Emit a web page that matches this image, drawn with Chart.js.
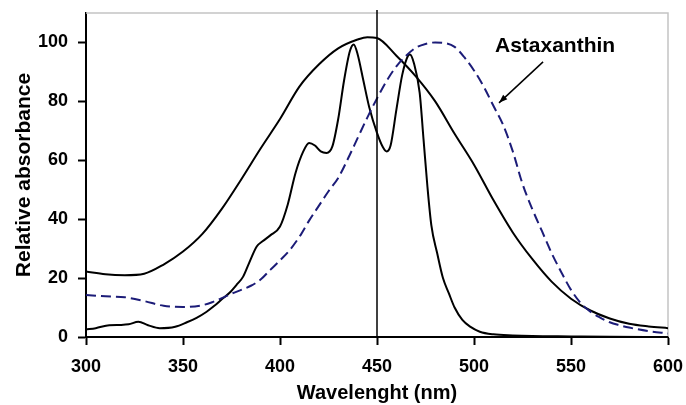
<!DOCTYPE html>
<html>
<head>
<meta charset="utf-8">
<script src="https://cdn.jsdelivr.net/npm/chart.js@4.4.1/dist/chart.umd.min.js"></script>
<style>
    html, body { margin: 0; padding: 0; background: #fff; }
    #wrap { width: 686px; height: 405px; position: relative; }
</style>
</head>
<body>
<div id="wrap"><canvas id="spectrum-chart"></canvas></div>
<script>
// axis ticks
const xTicks = [300, 350, 400, 450, 500, 550, 600];
const yTicks = [0, 20, 40, 60, 80, 100];

// broad solid band
const broadX = [300, 310, 320, 330, 340, 350, 360, 370, 380, 390, 400, 410, 420, 430, 440, 445, 450, 460, 470, 480, 490, 500, 510, 520, 530, 540, 550, 560, 570, 580, 590, 600];
const broadY = [22.2, 21.3, 21, 21.5, 24.6, 29, 35, 43.5, 53.5, 64, 74, 85, 92.5, 98, 101, 101.8, 101.5, 95.5, 88.5, 80, 69, 58.5, 46.5, 35.5, 26.5, 18.8, 13, 9, 6.3, 4.5, 3.6, 3];

// sharp two-peak solid curve
const sharpX = [300, 305, 312, 318, 322, 327, 332, 338, 346, 352, 357, 362, 366, 370, 374, 378, 381, 384, 388, 391, 395, 400, 404, 408, 412, 415, 418, 421, 424, 427, 430, 433, 436, 438, 440, 443, 446, 450, 453, 455, 457, 460, 463, 466, 467, 469, 472, 474, 476, 478, 481, 484, 487, 490, 494, 498, 503, 510, 520, 530, 550, 570, 600];
const sharpY = [2.6, 3.0, 4.0, 4.1, 4.3, 5.2, 4.0, 3.0, 3.5, 5, 6.5, 8.5, 10.5, 12.8, 15, 18, 20.5, 25, 30.7, 32.5, 34.5, 37.5, 45, 55.7, 63, 65.9, 65, 63, 62.5, 64.7, 74, 87, 97, 99.3, 96, 87, 78, 69.3, 64.5, 63, 65, 77.2, 89, 95.5, 95.9, 93, 82.9, 67, 51, 38, 28.5, 20, 14.9, 10, 5.8, 3.5, 1.8, 0.9, 0.5, 0.3, 0.2, 0.1, 0];

// astaxanthin (dashed)
const astaX = [300, 310, 320, 330, 340, 350, 360, 365, 370, 375, 380, 385, 390, 395, 400, 405, 410, 415, 420, 425, 430, 435, 440, 445, 450, 455, 460, 465, 470, 475, 480, 485, 490, 495, 500, 505, 510, 515, 520, 525, 530, 535, 540, 545, 550, 555, 560, 565, 570, 575, 580, 590, 600];
const astaY = [14.3, 13.8, 13.5, 12.2, 10.6, 10.2, 10.8, 11.8, 13.2, 14.7, 16, 17.4, 19.5, 22.8, 26, 29.5, 34, 39.5, 44.5, 49.5, 54, 60.5, 67.5, 74.5, 81, 87, 91.9, 95.5, 98.2, 99.5, 100, 99.8, 98.5, 95, 90.5, 85, 78.5, 72, 63, 52, 43.5, 36, 28.5, 22, 16, 11.5, 8.6, 6.6, 5, 4, 3.2, 2, 1.2];

// reference line at 450 nm
const markerX = [450, 450];
const markerY = [0, 111];

// annotation (data units)
const labelText = 'Astaxanthin';
const labelPos = [541.8, 96.9];
const arrowFrom = [535.6, 93.4];
const arrowTo = [512.9, 79.5];

function toPoints(xs, ys) {
    return xs.map((x, i) => ({ x: x, y: ys[i] }));
}

const FONT = "'Liberation Sans', Arial, sans-serif";

// light grey frame on top and right of plot area
const FrameBox = {
    id: 'frameBox',
    beforeDatasetsDraw(chart) {
        const a = chart.chartArea;
        const c = chart.ctx;
        c.save();
        c.strokeStyle = '#c4c4c4';
        c.lineWidth = 1.5;
        c.beginPath();
        c.moveTo(a.left, a.top);
        c.lineTo(a.right, a.top);
        c.lineTo(a.right, a.bottom);
        c.stroke();
        c.restore();
    }
};

// label + arrow
const Annotation = {
    id: 'annot',
    afterDatasetsDraw(chart) {
        const xs = chart.scales.x;
        const ys = chart.scales.y;
        const c = chart.ctx;
        c.save();
        c.fillStyle = '#000';
        c.font = 'bold 21px ' + FONT;
        c.textAlign = 'center';
        c.textBaseline = 'alphabetic';
        c.fillText(labelText, xs.getPixelForValue(labelPos[0]), ys.getPixelForValue(labelPos[1]));

        const x1 = xs.getPixelForValue(arrowFrom[0]);
        const y1 = ys.getPixelForValue(arrowFrom[1]);
        const x2 = xs.getPixelForValue(arrowTo[0]);
        const y2 = ys.getPixelForValue(arrowTo[1]);
        c.strokeStyle = '#000';
        c.lineWidth = 1.5;
        c.beginPath();
        c.moveTo(x1, y1);
        c.lineTo(x2, y2);
        c.stroke();
        const ang = Math.atan2(y2 - y1, x2 - x1);
        const len = 9;
        c.beginPath();
        c.moveTo(x2, y2);
        c.lineTo(x2 - len * Math.cos(ang - 0.35), y2 - len * Math.sin(ang - 0.35));
        c.lineTo(x2 - len * Math.cos(ang + 0.35), y2 - len * Math.sin(ang + 0.35));
        c.closePath();
        c.fill();
        c.restore();
    }
};

const ctx = document.getElementById('spectrum-chart');

new Chart(ctx, {
    type: 'line',
    data: {
        datasets: [
            {
                label: 'marker',
                data: toPoints(markerX, markerY),
                borderColor: '#000',
                borderWidth: 1.5,
                pointRadius: 0,
                clip: false
            },
            {
                label: 'Astaxanthin',
                data: toPoints(astaX, astaY),
                borderColor: '#1c1c78',
                borderWidth: 2,
                borderDash: [10, 5],
                pointRadius: 0,
                cubicInterpolationMode: 'monotone'
            },
            {
                label: 'broad',
                data: toPoints(broadX, broadY),
                borderColor: '#000',
                borderWidth: 2,
                pointRadius: 0,
                cubicInterpolationMode: 'monotone'
            },
            {
                label: 'sharp',
                data: toPoints(sharpX, sharpY),
                borderColor: '#000',
                borderWidth: 2,
                pointRadius: 0,
                cubicInterpolationMode: 'monotone'
            }
        ]
    },
    options: {
        responsive: true,
        maintainAspectRatio: false,
        animation: false,
        layout: {
            padding: { left: 0, right: 18, top: 13, bottom: 0 }
        },
        plugins: {
            legend: { display: false },
            tooltip: { enabled: false }
        },
        scales: {
            x: {
                type: 'linear',
                min: 300,
                max: 600,
                afterBuildTicks: function (scale) {
                    scale.ticks = xTicks.map(v => ({ value: v }));
                },
                grid: {
                    drawOnChartArea: false,
                    drawTicks: true,
                    tickLength: 8,
                    tickWidth: 2,
                    tickColor: '#000'
                },
                border: { color: '#000', width: 2 },
                ticks: {
                    color: '#000',
                    padding: 11,
                    maxRotation: 0,
                    font: { family: FONT, size: 18, weight: 'bold' }
                },
                title: {
                    display: true,
                    text: 'Wavelenght (nm)',
                    color: '#000',
                    padding: { top: 0, bottom: 0 },
                    font: { family: FONT, size: 20, weight: 'bold' }
                },
                afterFit: function (scale) {
                    scale.height = 68;
                    // let layout padding alone decide the side margins
                    scale.paddingLeft = 0;
                    scale.paddingRight = 0;
                }
            },
            y: {
                type: 'linear',
                min: 0,
                max: 110,
                afterBuildTicks: function (scale) {
                    scale.ticks = yTicks.map(v => ({ value: v }));
                },
                grid: {
                    drawOnChartArea: false,
                    drawTicks: true,
                    tickLength: 8,
                    tickWidth: 2,
                    tickColor: '#000'
                },
                border: { color: '#000', width: 2 },
                ticks: {
                    color: '#000',
                    padding: 10,
                    font: { family: FONT, size: 18, weight: 'bold' }
                },
                title: {
                    display: true,
                    text: 'Relative absorbance',
                    color: '#000',
                    padding: { top: 12, bottom: 0 },
                    font: { family: FONT, size: 21, weight: 'bold' }
                },
                afterFit: function (scale) {
                    scale.width = 86;
                    scale.paddingTop = 0;
                    scale.paddingBottom = 0;
                }
            }
        }
    },
    plugins: [FrameBox, Annotation]
});
</script>
</body>
</html>
